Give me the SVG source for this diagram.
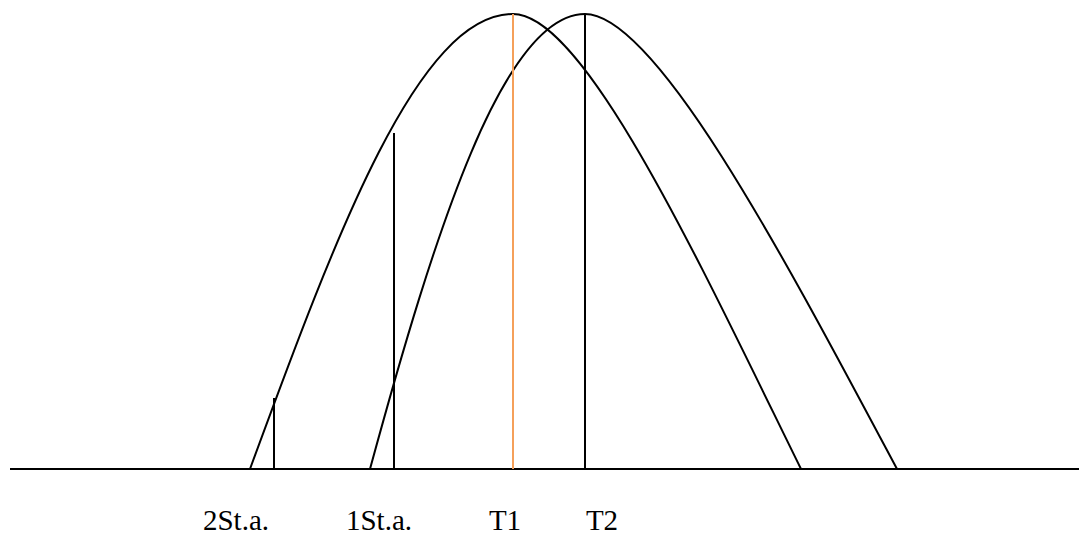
<svg xmlns="http://www.w3.org/2000/svg" width="1079" height="534" viewBox="0 0 1079 534">
<style>
.ln{fill:none;stroke:#000;stroke-width:2}
.or{fill:none;stroke:#f5a05a;stroke-width:2}
.lb{font-family:"Liberation Serif","Times New Roman",serif;font-size:29px;fill:#000;text-anchor:middle}
</style>
<rect width="1079" height="534" fill="#fff"/>
<g id="axis"><line class="ln" x1="10" y1="469" x2="1079" y2="469"/></g>
<g id="curves">
<path id="curve1" class="ln" d="M250,469 C336.8,232.4 418.3,14 513,14 C585,14 700.2,264.3 801,469"/>
<path id="curve2" class="ln" d="M370,469 C434.5,232.4 503.3,14 585,14 C656.8,14 787.8,264.3 897,469"/>
</g>
<g id="markers">
<line class="ln" x1="274" y1="398" x2="274" y2="469"/>
<line class="ln" x1="394" y1="133" x2="394" y2="469"/>
<line class="or" x1="513" y1="14" x2="513" y2="469"/>
<line class="ln" x1="585" y1="14" x2="585" y2="469"/>
</g>
<g id="labels">
<text class="lb" x="236" y="530">2St.a.</text>
<text class="lb" x="379" y="530">1St.a.</text>
<text class="lb" x="505" y="530">T1</text>
<text class="lb" x="602" y="530">T2</text>
</g>
</svg>
